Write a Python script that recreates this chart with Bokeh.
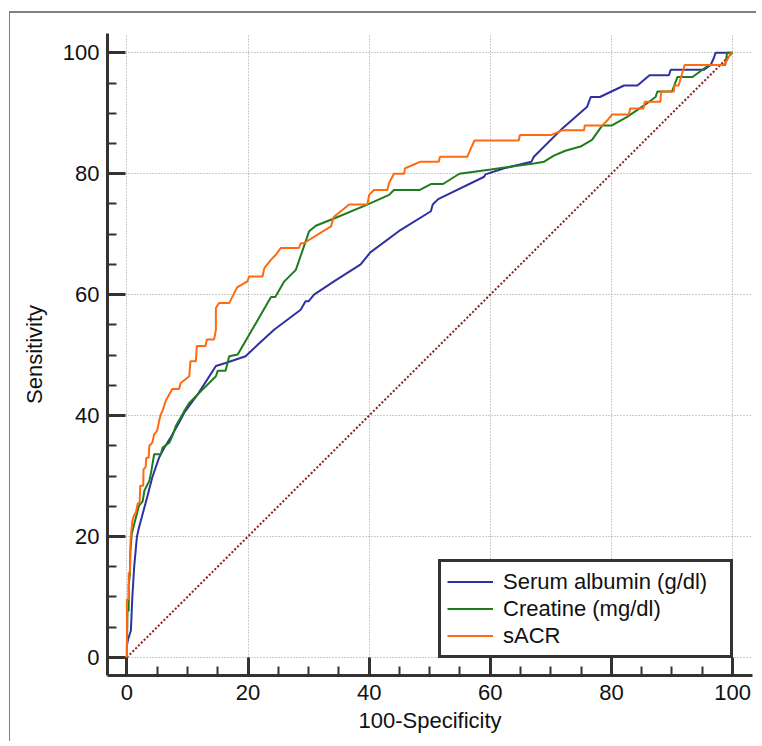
from bokeh.plotting import figure
from bokeh.models import Legend, LegendItem, SingleIntervalTicker, Range1d
from bokeh.embed import file_html
from bokeh.resources import INLINE

# ---- data ----
serum_x = [0, 0, 0.2, 0.66, 0.9, 1.2, 1.65, 2.0, 2.6, 3.4, 4.2, 5.3, 6.2, 7.3, 8.6, 9.5, 11.1, 11.7,
           14.7, 16.3, 19.6, 21.6, 24.3, 28.7, 29.5, 30.0, 30.9, 34.2, 38.6, 40.2, 44.9, 50.2, 50.5,
           51.4, 59.0, 59.2, 62.3, 66.8, 67.2, 71.9, 76.0, 76.6, 78.1, 82.1, 84.3, 86.3, 89.5, 89.8,
           95.3, 96.4, 96.9, 97.2, 100]
serum_y = [0, 2.0, 3.0, 4.4, 9.9, 14.9, 19.9, 21.5, 23.7, 26.7, 29.8, 33.0, 34.7, 36.5, 38.8, 40.5, 42.7, 43.5,
           48.2, 48.7, 49.8, 51.7, 54.2, 57.5, 58.9, 58.9, 60.0, 62.2, 65.0, 67.0, 70.5, 73.8, 74.9,
           75.8, 79.5, 79.9, 80.9, 82.0, 82.8, 87.5, 91.1, 92.7, 92.7, 94.6, 94.6, 96.3, 96.3, 97.2,
           97.2, 98.0, 99.1, 100, 100]

creat_x = [0, 0.1, 0.3, 0.3, 0.5, 0.55, 0.8, 1.2, 2.0, 2.6, 2.9, 3.7, 4.0, 4.5, 5.6, 5.9, 7.0, 7.5, 8.1,
           9.2, 9.5, 10.3, 11.7, 14.7, 15.0, 16.3, 16.9, 18.3, 23.8, 24.5, 26.0, 27.9, 30.1, 31.2,
           34.2, 39.7, 43.3, 44.1, 48.3, 50.2, 52.2, 54.9, 60.1, 67.2, 68.9, 70.5, 72.4, 74.9, 76.8,
           78.5, 80.1, 82.6, 85.4, 87.3, 87.6, 90.0, 90.9, 93.4, 96.1, 98.8, 99.1, 100]
creat_y = [0, 7.7, 7.7, 12.0, 13.8, 17.1, 20.4, 22.0, 25.1, 25.8, 27.6, 29.2, 30.6, 33.6, 33.6, 34.7, 35.5, 36.6, 38.3,
           40.2, 40.8, 42.1, 43.5, 46.5, 47.4, 47.4, 49.8, 50.1, 59.6, 59.6, 62.2, 64.1, 70.5, 71.4,
           72.6, 74.9, 76.5, 77.3, 77.3, 78.3, 78.3, 80.0, 80.7, 81.7, 82.0, 83.0, 83.8, 84.5, 85.6,
           88.0, 88.0, 89.4, 91.3, 92.7, 93.6, 93.6, 96.0, 96.0, 98.0, 98.0, 100, 100]

sacr_x = [0, 0, 0.3, 0.3, 0.5, 0.6, 0.9, 1.2, 1.5, 1.8, 2.1, 2.2, 2.7, 2.75, 3.1, 3.2, 3.6, 3.7, 4.2, 4.5,
          5.0, 5.3, 5.6, 5.9, 6.4, 7.5, 8.6, 8.9, 10.3, 10.5, 11.4, 11.55, 13.0, 13.2, 14.4, 14.7, 14.7,
          15.2, 16.9, 18.2, 19.9, 20.2, 22.4, 22.7, 23.8, 24.6, 25.4, 28.4, 28.7, 29.2, 33.7, 34.2,
          36.7, 39.7, 40.0, 40.8, 43.0, 43.3, 44.1, 45.8, 45.9, 47.1, 48.5, 51.5, 51.7, 56.2, 56.8,
          57.4, 64.7, 64.9, 70.0, 71.9, 75.5, 75.6, 78.5, 79.3, 80.1, 82.9, 83.1, 85.3, 85.5, 88.1,
          88.2, 90.3, 90.4, 91.1, 92.1, 98.6, 99.1, 99.7, 100]
sacr_y = [0, 9.6, 9.6, 14.0, 14.0, 19.3, 22.6, 23.5, 24.0, 25.5, 25.5, 28.4, 28.4, 31.1, 31.5, 33.0, 33.0, 35.0, 35.5, 36.9,
          37.5, 39.0, 40.2, 40.8, 42.4, 44.4, 44.4, 45.4, 46.5, 49.0, 49.0, 51.5, 51.5, 52.6, 52.6, 54.2, 57.8,
          58.6, 58.6, 61.2, 62.2, 63.0, 63.0, 64.4, 65.8, 66.6, 67.7, 67.7, 68.5, 68.5, 71.3, 72.9,
          74.9, 74.9, 76.5, 77.3, 77.3, 78.5, 80.0, 80.0, 80.9, 81.4, 82.0, 82.0, 82.8, 82.8, 84.2,
          85.5, 85.5, 86.4, 86.4, 87.2, 87.2, 88.0, 88.0, 88.8, 89.8, 89.8, 90.8, 90.8, 91.9, 91.9,
          93.6, 93.6, 94.6, 94.6, 98.0, 98.0, 98.8, 99.9, 100]

ref_x = [0, 100]
ref_y = [0, 100]

series_names = ["Serum albumin (g/dl)", "Creatine (mg/dl)", "sACR"]
series_colors = ["#3030a0", "#1e7b1e", "#ff6a10"]
tick_interval = 20

FONT = "Liberation Sans"

p = figure(output_backend="svg", toolbar_location=None,
           frame_width=645, frame_height=642,
           x_range=Range1d(-3.2, 103.3), y_range=Range1d(-3.0, 103.2),
           min_border_left=97, min_border_right=4, min_border_top=20, min_border_bottom=66,
           margin=(11, 0, 0, 9),
           styles={"border-top": "2px solid #808080", "border-left": "1px solid #808080"})
p.outline_line_color = None
p.background_fill_color = "white"
p.border_fill_color = "white"

for ax in (p.xaxis[0], p.yaxis[0]):
    ax.ticker = SingleIntervalTicker(interval=tick_interval, num_minor_ticks=4)
    ax.axis_line_width = 3
    ax.axis_line_color = "#333333"
    ax.major_tick_in = 18
    ax.major_tick_out = 0
    ax.major_tick_line_width = 3
    ax.major_tick_line_color = "#333333"
    ax.minor_tick_in = 9
    ax.minor_tick_out = 0
    ax.minor_tick_line_width = 2
    ax.minor_tick_line_color = "#333333"
    ax.major_label_text_font = FONT
    ax.major_label_text_font_size = "22px"
    ax.major_label_text_color = "#111111"
    ax.axis_label_text_font = FONT
    ax.axis_label_text_font_size = "22px"
    ax.axis_label_text_font_style = "normal"
    ax.axis_label_text_color = "#111111"

p.xaxis.axis_label = "100-Specificity"
p.yaxis.axis_label = "Sensitivity"
p.xaxis.major_label_standoff = 9
p.yaxis.major_label_standoff = 8
p.xaxis.axis_label_standoff = 5
p.yaxis.axis_label_standoff = 13

for g in (p.xgrid[0], p.ygrid[0]):
    g.ticker = SingleIntervalTicker(interval=tick_interval)
    g.grid_line_color = "#999999"
    g.grid_line_dash = "1 2"
    g.grid_line_width = 1

p.line(ref_x, ref_y, line_color="#8b1c1c", line_width=2, line_dash="2 2")

r1 = p.line(serum_x, serum_y, line_color=series_colors[0], line_width=2)
r2 = p.line(creat_x, creat_y, line_color=series_colors[1], line_width=2)
r3 = p.line(sacr_x, sacr_y, line_color=series_colors[2], line_width=2)

legend = Legend(items=[LegendItem(label=series_names[0], renderers=[r1]),
                       LegendItem(label=series_names[1], renderers=[r2]),
                       LegendItem(label=series_names[2], renderers=[r3])],
                location=(331, 17))
legend.border_line_width = 3
legend.border_line_color = "#333333"
legend.border_line_alpha = 1.0
legend.background_fill_color = "white"
legend.background_fill_alpha = 1.0
legend.label_text_font = FONT
legend.label_text_font_size = "22px"
legend.label_text_color = "#111111"
legend.glyph_width = 46
legend.glyph_height = 27
legend.label_height = 27
legend.label_width = 221
legend.label_standoff = 10
legend.padding = 6
legend.spacing = 0
legend.margin = 0
p.add_layout(legend)

open("out.html", "w").write(file_html(p, INLINE))
